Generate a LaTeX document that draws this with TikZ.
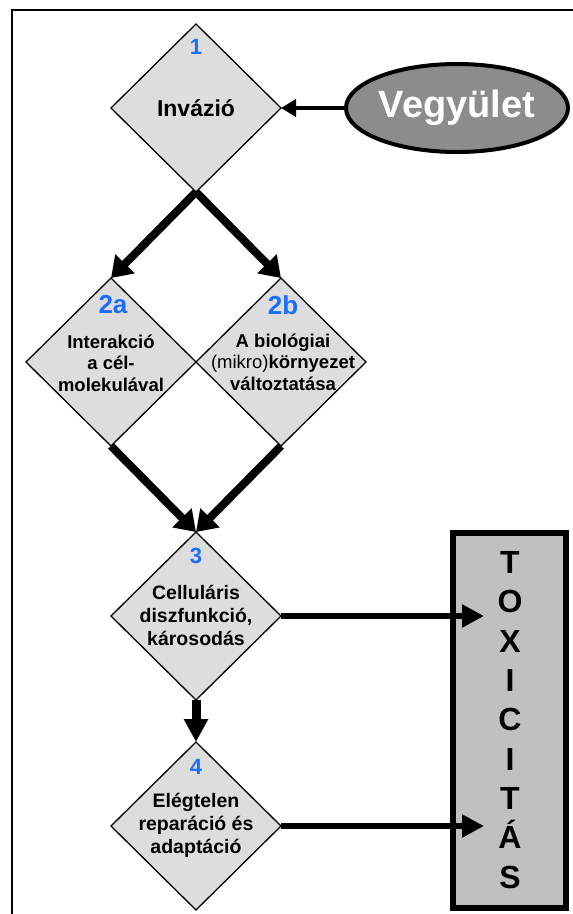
\documentclass[tikz,border=0pt]{standalone}
\usepackage{fontspec}
\setmainfont{Liberation Sans}
\usetikzlibrary{shapes.geometric,arrows.meta}
\definecolor{numblue}{RGB}{25,110,255}
\definecolor{diafill}{RGB}{221,221,221}
\definecolor{ellfill}{RGB}{140,140,140}
\definecolor{boxfill}{RGB}{192,192,192}
\tikzset{
  dia/.style={diamond, draw=black, line width=1.3pt, fill=diafill, minimum width=170pt, minimum height=168pt, inner sep=0pt, outer sep=0pt},
  num/.style={text=numblue, font=\fontsize{22}{22}\selectfont\bfseries, inner sep=0pt},
  bignum/.style={text=numblue, font=\fontsize{26}{26}\selectfont\bfseries, inner sep=0pt},
  lbl/.style={align=center, font=\fontsize{19.5}{23}\selectfont\bfseries, inner sep=0pt},
  lblsmall/.style={align=center, font=\fontsize{18.5}{21.5}\selectfont\bfseries, inner sep=0pt},
  diagarrow/.style={line width=8pt, -{Triangle[length=20pt,width=26pt]}},
  downarrow/.style={line width=9pt, -{Triangle[length=23pt,width=23pt]}},
  sidearrow/.style={line width=6.5pt, -{Triangle[length=22pt,width=22pt]}},
  inarrow/.style={line width=4.5pt, -{Triangle[length=15pt,width=17pt]}},
  framestyle/.style={line width=1.6pt, draw=black}
}
\begin{document}
\begin{tikzpicture}[x=1pt,y=-1pt]
\useasboundingbox (0,0) rectangle (573,914);
\fill[white] (0,0) rectangle (573,914);
% frame
\coordinate (fbl) at (12,914);
\coordinate (ftl) at (12,10);
\coordinate (ftr) at (573,10);
\draw[framestyle] (fbl) -- (ftl) -- (ftr);

% diamonds
\node[dia] (d1) at (196,108) {};
\node[dia] (d2a) at (111,362) {};
\node[dia] (d2b) at (281,362) {};
\node[dia] (d3) at (196,616) {};
\node[dia] (d4) at (196,826) {};

% numbers
\node[num] (n1) at (196,47) {1};
\node[bignum] (n2a) at (113,305) {2a};
\node[bignum] (n2b) at (283,305) {2b};
\node[num] (n3) at (196,556) {3};
\node[num] (n4) at (196,767) {4};

% texts
\node[lbl, font=\fontsize{23}{23}\selectfont\bfseries] (t1) at (196,108) {Invázió};
\node[lblsmall] (t2a) at (111,363) {Interakció\\a cél-\\molekulával};
\node[lblsmall] (t2b) at (283,362) {A biológiai\\{\mdseries(mikro)}környezet\\változtatása};
\node[lbl] (t3) at (196,615) {Celluláris\\diszfunkció,\\károsodás};
\node[lbl] (t4) at (196,825) {Elégtelen\\reparáció és\\adaptáció};

% Vegyulet
\node[ellipse, draw=black, line width=4pt, fill=ellfill, minimum width=222pt, minimum height=88pt, inner sep=0pt, outer sep=0pt, text=white, font=\fontsize{38}{38}\selectfont\bfseries] (veg) at (457,108) {Vegyület};

% TOXICITAS box
\node[draw=black, line width=6pt, fill=boxfill, minimum width=113pt, minimum height=375pt, inner sep=0pt, outer sep=0pt] (box) at (509.5,720.5) {};
\node[align=center, font=\fontsize{32}{39.3}\selectfont\bfseries, inner sep=0pt] (tox) at (510,720) {T\\O\\X\\I\\C\\I\\T\\Á\\S};
\coordinate (tipx) at (484,0);

% arrows
\draw[inarrow] (veg.west) -- (d1.east);
\draw[diagarrow] (d1.south) -- (d2a.north);
\draw[diagarrow] (d1.south) -- (d2b.north);
\draw[diagarrow] (d2a.south) -- (d3.north);
\draw[diagarrow] (d2b.south) -- (d3.north);
\draw[downarrow] (d3.south) -- (d4.north);
\draw[sidearrow] (d3.east) -- (d3.east -| tipx);
\draw[sidearrow] (d4.east) -- (d4.east -| tipx);
\end{tikzpicture}
\end{document}
